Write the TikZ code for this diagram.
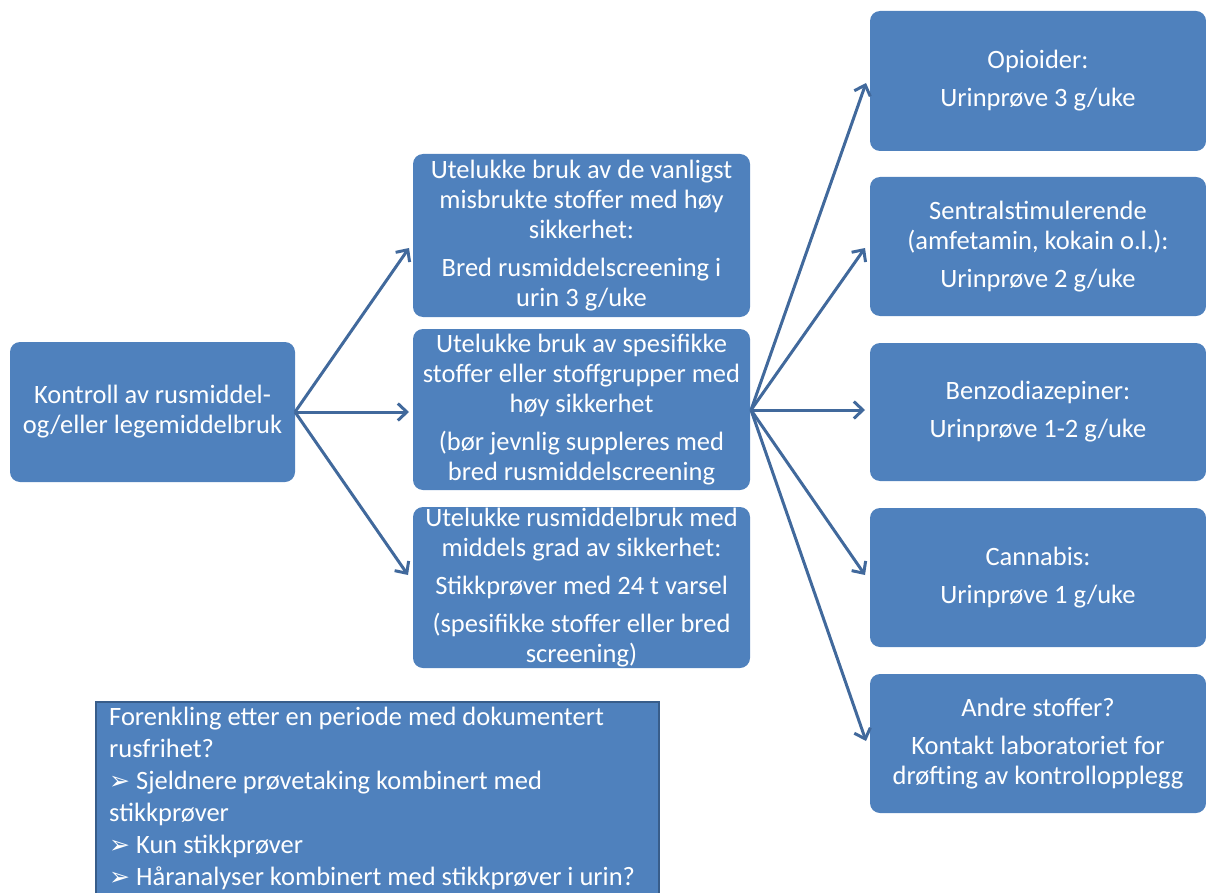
\documentclass[tikz,border=0pt]{standalone}
\usepackage{fontspec}
\setmainfont{Carlito}
\newfontfamily\symfont{DejaVu Sans}
\usetikzlibrary{arrows.meta}
\definecolor{boxblue}{HTML}{4F81BD}
\definecolor{arrowblue}{HTML}{41699C}
\definecolor{borderblue}{HTML}{385D8A}
\newcommand{\pgap}{\\[8pt]}
\newcommand{\arrowbullet}{{\symfont\fontsize{25}{25}\selectfont ➢}}
\tikzset{
  box/.style={rectangle, rounded corners=10pt, fill=boxblue, text=white, align=center,
    inner sep=0pt, font=\fontsize{26.5}{30}\selectfont},
  conn/.style={draw=arrowblue, line width=3pt, -{Straight Barb[length=9pt,width=17pt,line width=3pt]}},
}
\begin{document}
\begin{tikzpicture}[x=1pt,y=-1pt]
\useasboundingbox (0,0) rectangle (1206,893);
% left box
\node[box, minimum width=285pt, minimum height=140pt] (L) at (152.5,412) {Kontroll av rusmiddel-\\og/eller legemiddelbruk};
% middle boxes
\node[box, minimum width=337pt, minimum height=163pt] (M1) at (581.5,235.5)
  {Utelukke bruk av de vanligst\\misbrukte stoffer med høy\\sikkerhet:\pgap Bred rusmiddelscreening i\\urin 3 g/uke};
\node[box, minimum width=337pt, minimum height=161pt] (M2) at (581.5,409.5)
  {Utelukke bruk av spesifikke\\stoffer eller stoffgrupper med\\høy sikkerhet\pgap (bør jevnlig suppleres med\\bred rusmiddelscreening};
\node[box, minimum width=337pt, minimum height=161pt] (M3) at (581.5,587.5)
  {Utelukke rusmiddelbruk med\\middels grad av sikkerhet:\pgap Stikkprøver med 24 t varsel\pgap (spesifikke stoffer eller bred\\screening)};
% right boxes
\node[box, minimum width=336pt, minimum height=140pt] (R1) at (1038,81)
  {Opioider:\pgap Urinprøve 3 g/uke};
\node[box, minimum width=336pt, minimum height=139pt] (R2) at (1038,246.5)
  {Sentralstimulerende\\(amfetamin, kokain o.l.):\pgap Urinprøve 2 g/uke};
\node[box, minimum width=336pt, minimum height=138pt] (R3) at (1038,412)
  {Benzodiazepiner:\pgap Urinprøve 1-2 g/uke};
\node[box, minimum width=336pt, minimum height=139pt] (R4) at (1038,577.5)
  {Cannabis:\pgap Urinprøve 1 g/uke};
\node[box, minimum width=336pt, minimum height=139pt] (R5) at (1038,743.5)
  {Andre stoffer?\pgap Kontakt laboratoriet for\\drøfting av kontrollopplegg};
% bottom box
\node[rectangle, fill=boxblue, draw=borderblue, line width=2pt, minimum width=563pt, minimum height=210pt,
  anchor=north west, inner sep=0pt] (B) at (95,701) {};
\node[anchor=north west, text=white, align=left, inner sep=0pt, font=\fontsize{26.5}{32}\selectfont] (BT) at (109,707)
  {Forenkling etter en periode med dokumentert\\rusfrihet?\\\arrowbullet\ Sjeldnere prøvetaking kombinert med\\stikkprøver\\\arrowbullet\ Kun stikkprøver\\\arrowbullet\ Håranalyser kombinert med stikkprøver i urin?};
% arrow tip coordinates
\coordinate (s1) at (295,412);
\coordinate (t1) at (409,248);
\coordinate (t2) at (409,412);
\coordinate (t3) at (408,575);
\coordinate (s2) at (751,410);
\coordinate (u1) at (866,83);
\coordinate (u2) at (865,248);
\coordinate (u3) at (865,410);
\coordinate (u4) at (865,575);
\coordinate (u5) at (866,741);
\draw[conn] (s1) -- (t1);
\draw[conn] (s1) -- (t2);
\draw[conn] (s1) -- (t3);
\draw[conn] (s2) -- (u1);
\draw[conn] (s2) -- (u2);
\draw[conn] (s2) -- (u3);
\draw[conn] (s2) -- (u4);
\draw[conn] (s2) -- (u5);
\end{tikzpicture}
\end{document}
